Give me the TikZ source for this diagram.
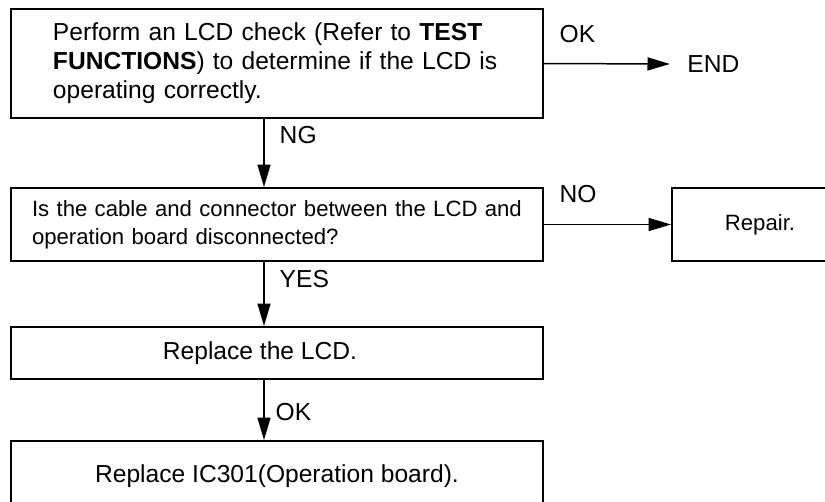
\documentclass[tikz,border=0pt]{standalone}
\usepackage{fontspec}
\setmainfont{Liberation Sans}
\usepackage{tikz}
\usetikzlibrary{arrows.meta,positioning,calc}
\newcommand{\stepfont}{\fontsize{14}{16.5}\selectfont}
\newcommand{\askfont}{\fontsize{12.6}{15.9}\selectfont}
\tikzset{
  fcbox/.style    = {draw=black, line width=1.1pt, inner ysep=0pt,
                     font=\stepfont},
  stepbox/.style  = {fcbox, align=left, minimum height=2.18cm,
                     inner xsep=0.84cm, text width=8.96cm},
  askbox/.style   = {fcbox, align=left, minimum height=1.46cm,
                     inner xsep=0.42cm, text width=9.8cm, font=\askfont},
  actbox/.style   = {fcbox, align=center, minimum width=10.64cm},
  flow/.style     = {-{Triangle[length=0.45cm,width=0.26cm]}, draw=black,
                     line width=0.85pt},
  lbl/.style      = {font=\stepfont, inner sep=0pt, anchor=west},
}
\begin{document}
\begin{tikzpicture}
  \useasboundingbox (0,0) rectangle (16.5,-10.04);

  % ---------- boxes ------------------------------------------------------
  \node[stepbox] (chk) at (5.54,-1.27)
    {Perform an LCD check (Refer to \textbf{TEST}\\
     \textbf{FUNCTIONS}) to determine if the LCD is\\
     operating correctly.};
  \node[lbl, inner xsep=0.34cm] (fin) at (13.4,-1.28) {END};

  \node[askbox] (cable) at (5.54,-4.49)
    {Is the cable and connector between the LCD and\\
     operation board disconnected?};
  \node[actbox, minimum width=3.52cm, minimum height=1.46cm, font=\askfont]
    (repair) at (15.2,-4.49) {Repair.};

  \node[actbox, minimum height=1.04cm] (lcd) at (5.54,-7.06)
    {Replace the LCD.\hspace*{0.68cm}};
  \node[actbox, minimum height=1.4cm] (ic) at (5.54,-9.52)
    {Replace IC301(Operation board).};

  % arrows down run left of the box centres
  \coordinate (spine) at (5.28,0);

  % ---------- connectors -------------------------------------------------
  \draw[flow] (chk.east) -- node[lbl, pos=0, xshift=0.3cm, yshift=0.58cm]
      {OK} (fin.west);
  \draw[flow] (chk.south -| spine) -- node[lbl, pos=0.24, xshift=0.3cm]
      {NG} (cable.north -| spine);

  \draw[flow] (cable.east) -- node[lbl, pos=0, xshift=0.3cm, yshift=0.6cm]
      {NO} (repair.west);
  \draw[flow] (cable.south -| spine) -- node[lbl, pos=0.27, xshift=0.3cm]
      {YES} (lcd.north -| spine);

  \draw[flow] (lcd.south -| spine) -- node[lbl, pos=0.53, xshift=0.22cm]
      {OK} (ic.north -| spine);

\end{tikzpicture}
\end{document}
